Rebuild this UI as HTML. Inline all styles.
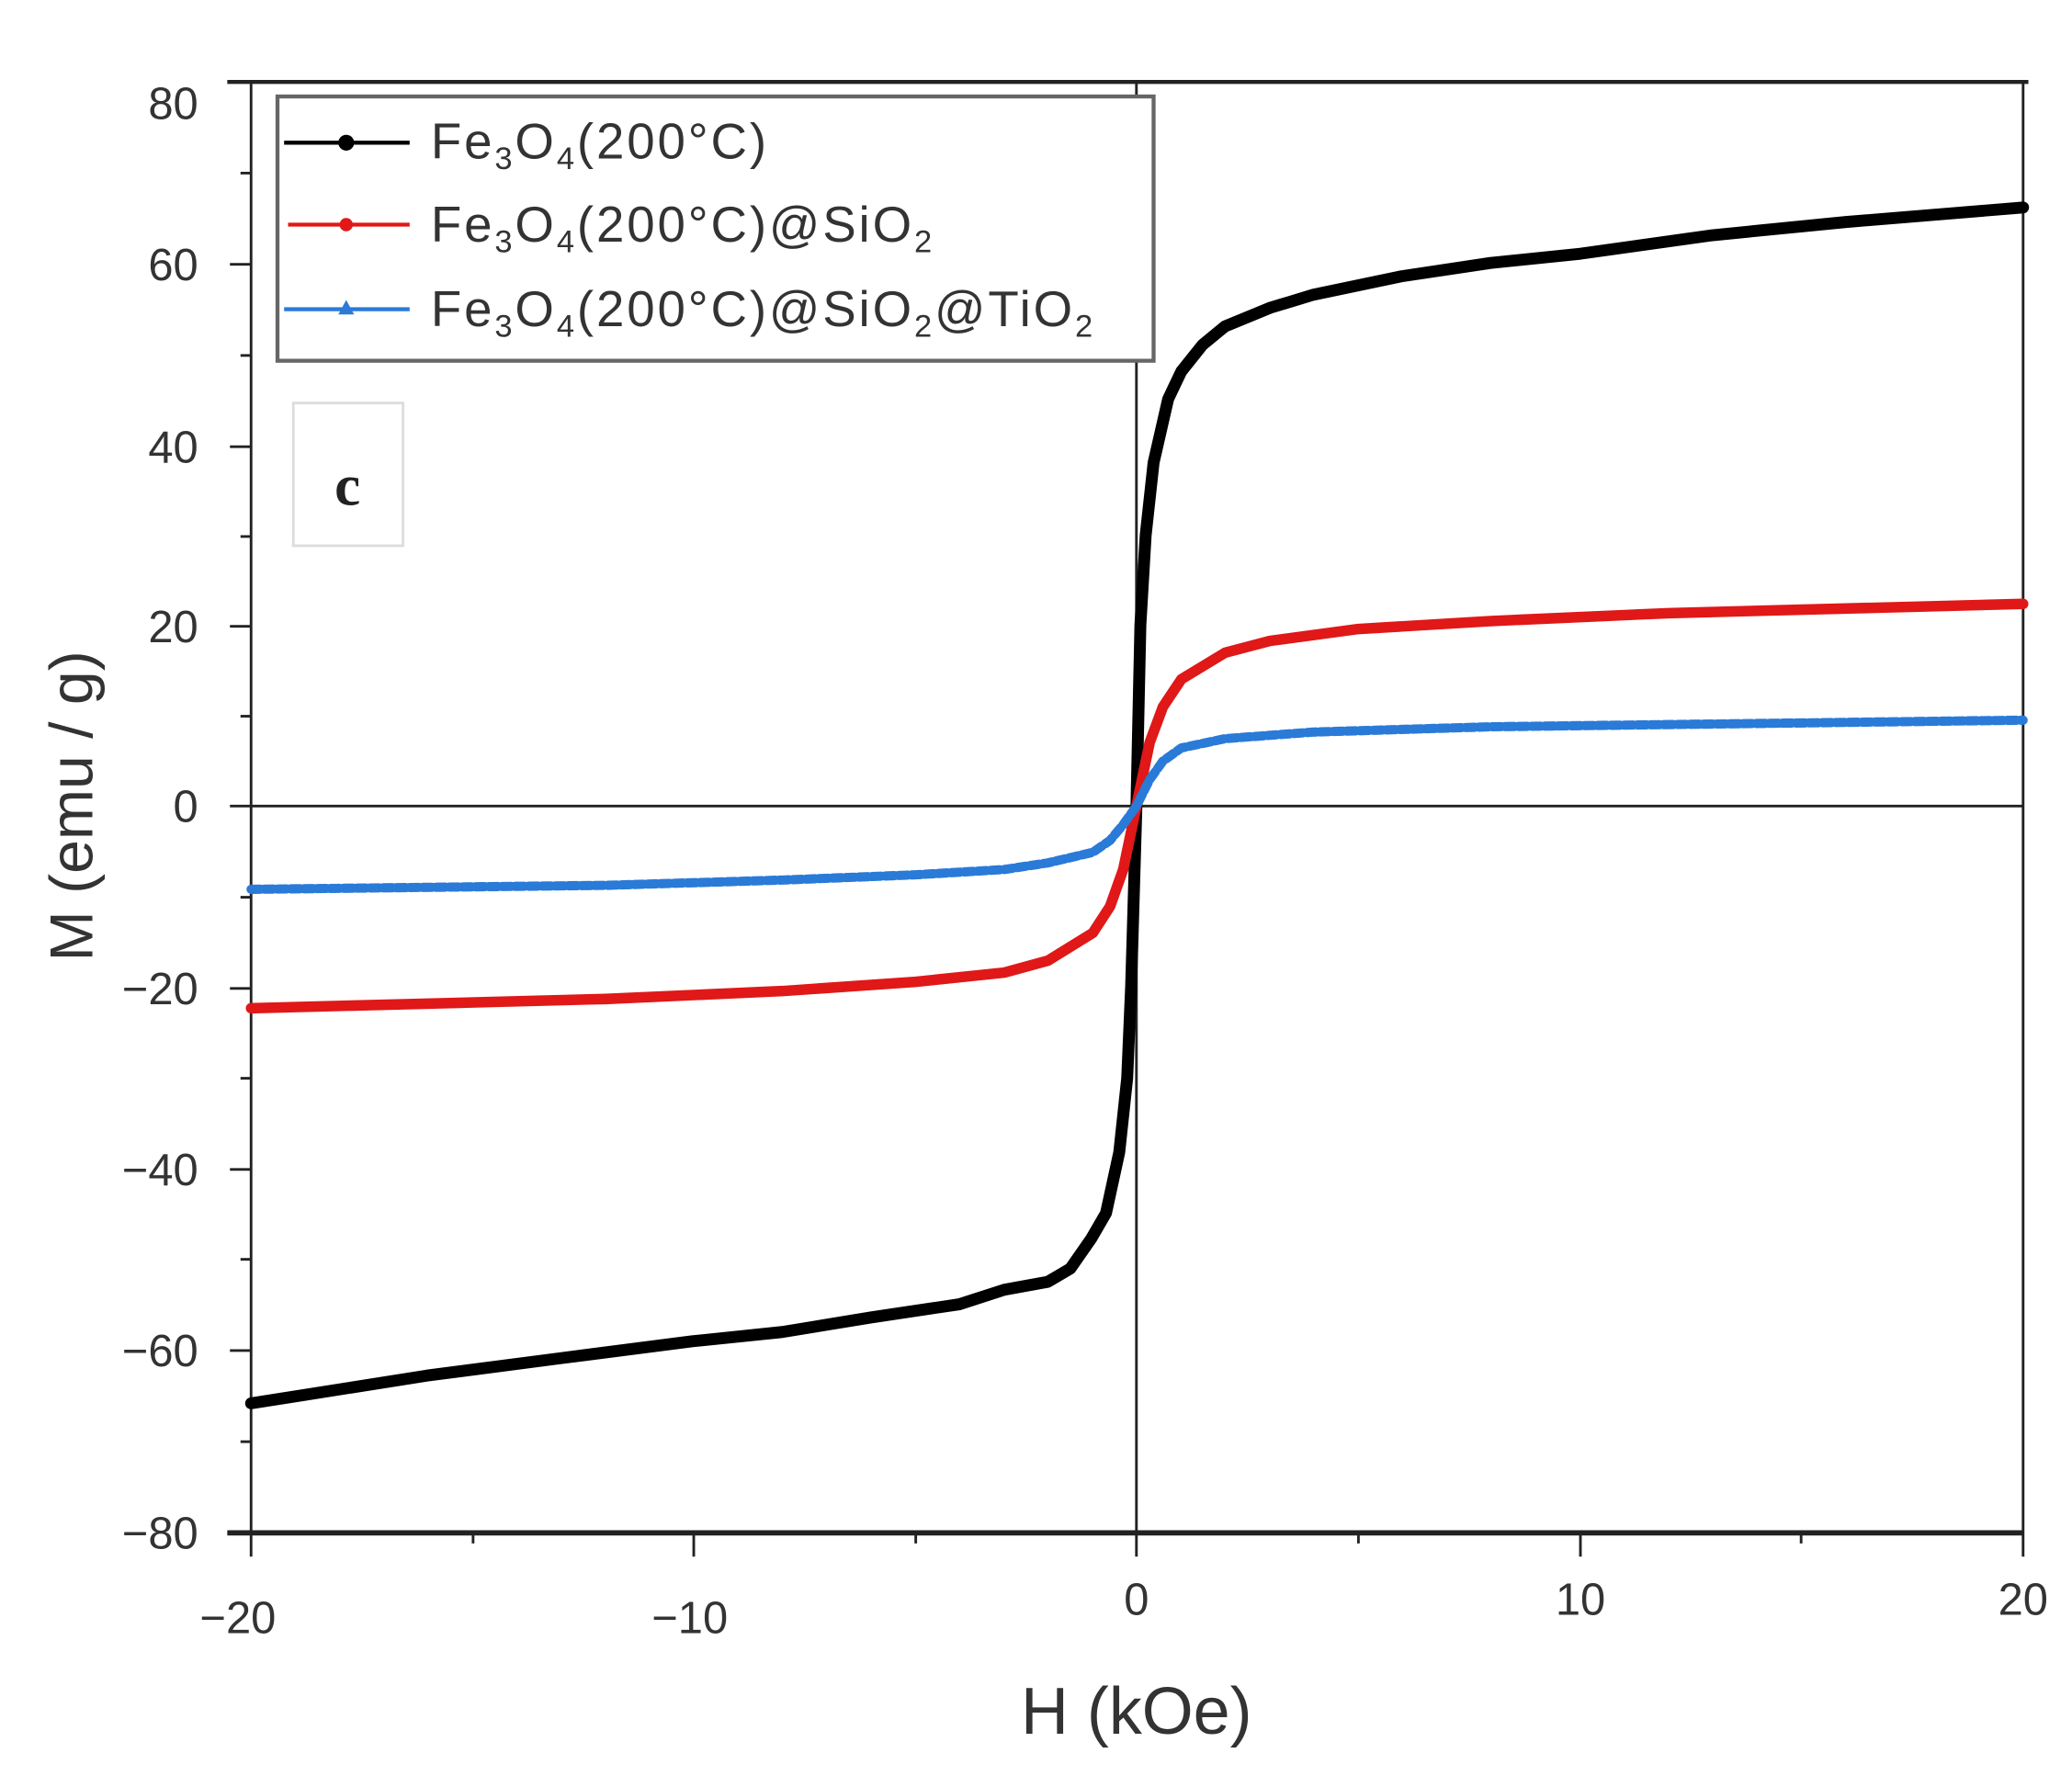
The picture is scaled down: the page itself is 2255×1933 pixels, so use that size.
<!DOCTYPE html>
<html><head><meta charset="utf-8"><style>html,body{margin:0;padding:0;background:#fff}svg{display:block}</style></head>
<body>
<svg width="2255" height="1933" viewBox="0 0 1568 1344" preserveAspectRatio="none" xmlns="http://www.w3.org/2000/svg" font-family="Liberation Sans, sans-serif">
<rect width="1568" height="1344" fill="#fff"/>
<!-- frame -->
<line x1="172" y1="62" x2="1535" y2="62" stroke="#222" stroke-width="3"/>
<line x1="172" y1="1160" x2="1531" y2="1160" stroke="#222" stroke-width="4"/>
<line x1="190" y1="62" x2="190" y2="1178" stroke="#222" stroke-width="2"/>
<line x1="1531" y1="62" x2="1531" y2="1178" stroke="#222" stroke-width="2"/>
<line x1="860" y1="62" x2="860" y2="1178" stroke="#222" stroke-width="2"/>
<line x1="190" y1="610" x2="1531" y2="610" stroke="#222" stroke-width="2"/>
<!-- y ticks -->
<g stroke="#222" stroke-width="2">
<line x1="174" y1="200" x2="190" y2="200"/><line x1="174" y1="338" x2="190" y2="338"/><line x1="174" y1="474" x2="190" y2="474"/><line x1="174" y1="610" x2="190" y2="610"/><line x1="174" y1="748" x2="190" y2="748"/><line x1="174" y1="885" x2="190" y2="885"/><line x1="174" y1="1022" x2="190" y2="1022"/>
<line x1="182" y1="131" x2="190" y2="131"/><line x1="182" y1="269" x2="190" y2="269"/><line x1="182" y1="406" x2="190" y2="406"/><line x1="182" y1="542" x2="190" y2="542"/><line x1="182" y1="679" x2="190" y2="679"/><line x1="182" y1="816" x2="190" y2="816"/><line x1="182" y1="953" x2="190" y2="953"/><line x1="182" y1="1091" x2="190" y2="1091"/>
<line x1="358" y1="1160" x2="358" y2="1168"/><line x1="525" y1="1160" x2="525" y2="1178"/><line x1="693" y1="1160" x2="693" y2="1168"/><line x1="1028" y1="1160" x2="1028" y2="1168"/><line x1="1196" y1="1160" x2="1196" y2="1178"/><line x1="1363" y1="1160" x2="1363" y2="1168"/>
</g>
<g font-size="34" fill="#333" text-anchor="end">
<text x="150" y="90">80</text><text x="150" y="212">60</text><text x="150" y="350">40</text><text x="150" y="486">20</text><text x="150" y="622">0</text><text x="150" y="760">−20</text><text x="150" y="897">−40</text><text x="150" y="1034">−60</text><text x="150" y="1172">−80</text>
</g>
<g font-size="34" fill="#333" text-anchor="middle">
<text x="180" y="1236">−20</text><text x="522" y="1236">−10</text><text x="860" y="1222">0</text><text x="1196" y="1222">10</text><text x="1531" y="1222">20</text>
</g>
<text x="860" y="1312" font-size="50" fill="#333" text-anchor="middle">H (kOe)</text>
<text transform="translate(70,610) rotate(-90)" font-size="46" fill="#333" text-anchor="middle">M (emu / g)</text>
<!-- curves -->
<g fill="none" stroke-linejoin="round" stroke-linecap="round">
<polyline stroke="#000" stroke-width="9" points="190,1062 323,1041 423,1028 524,1015 592,1008 659,997 726,987 760,976 793,970 810,960 826,937 837,918 847,872 853,816 856,746 860,610 863,473 867,405 873,350 884,302 894,281 910,261 927,247 961,233 994,223 1061,209 1128,199 1196,192 1296,178 1397,168 1531,157"/>
<polyline stroke="#000" stroke-width="2" points="846,872 853,820 856,760 860,610 864,470"/>
<polyline stroke="#e01818" stroke-width="8" points="190,763 458,756 592,750 693,743 760,736 793,727 827,706 840,686 850,658 860,610 870,562 880,535 894,514 927,494 961,485 1028,476 1128,470 1263,464 1531,457"/>
<polyline stroke="#2a7ad8" stroke-width="7" stroke-dasharray="7 3" points="190,673 458,670 592,666 693,662 760,658 793,653 827,645 840,636 850,624 860,610 870,590 880,576 894,566 927,559 994,554 1128,550 1531,545"/>
</g>
<!-- legend -->
<rect x="210" y="73" width="663" height="200" fill="#fff" stroke="#666" stroke-width="3"/>
<line x1="215" y1="108" x2="310" y2="108" stroke="#000" stroke-width="3"/><circle cx="262" cy="108" r="6" fill="#000"/>
<line x1="218" y1="170" x2="310" y2="170" stroke="#e01818" stroke-width="3"/><circle cx="262" cy="170" r="5" fill="#e01818"/>
<line x1="215" y1="234" x2="310" y2="234" stroke="#2a7ad8" stroke-width="3"/><polygon points="262,227 268,238 256,238" fill="#2a7ad8"/>
<g font-size="38" fill="#333" letter-spacing="2">
<text x="326" y="120">Fe<tspan font-size="24" dy="8">3</tspan><tspan dy="-8">O</tspan><tspan font-size="24" dy="8">4</tspan><tspan dy="-8">(200°C)</tspan></text>
<text x="326" y="183">Fe<tspan font-size="24" dy="8">3</tspan><tspan dy="-8">O</tspan><tspan font-size="24" dy="8">4</tspan><tspan dy="-8">(200°C)@SiO</tspan><tspan font-size="24" dy="8">2</tspan></text>
<text x="326" y="247">Fe<tspan font-size="24" dy="8">3</tspan><tspan dy="-8">O</tspan><tspan font-size="24" dy="8">4</tspan><tspan dy="-8">(200°C)@SiO</tspan><tspan font-size="24" dy="8">2</tspan><tspan dy="-8">@TiO</tspan><tspan font-size="24" dy="8">2</tspan></text>
</g>
<rect x="222" y="305" width="83" height="108" fill="#fff" stroke="#ddd" stroke-width="2"/>
<text x="263" y="382" font-size="44" font-weight="bold" font-family="Liberation Serif, serif" fill="#222" text-anchor="middle">c</text>
</svg>
</body></html>
